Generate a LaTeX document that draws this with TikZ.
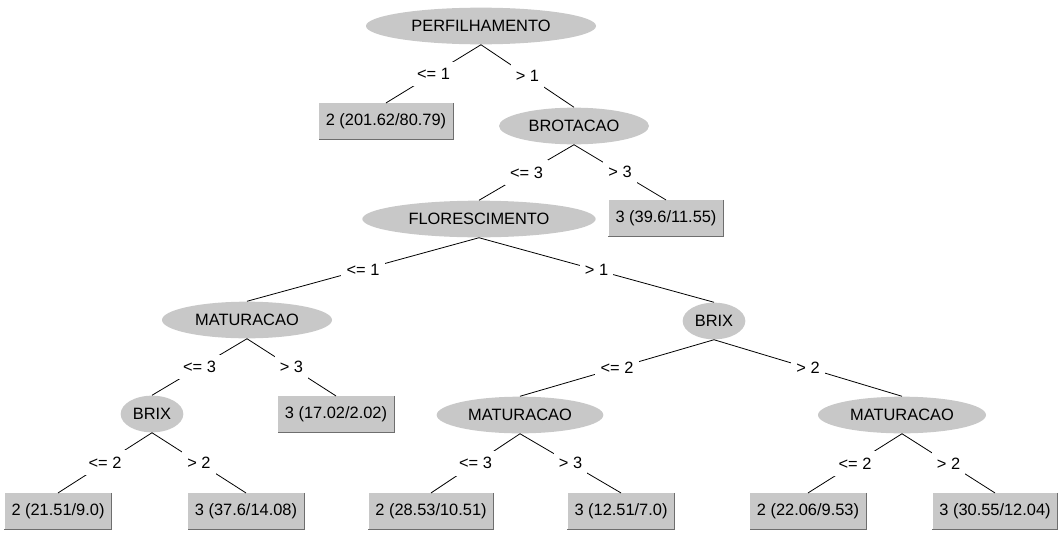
\documentclass[tikz,border=0pt]{standalone}
\usepackage{fontspec}
\setmainfont{Liberation Sans}
\usetikzlibrary{shapes.geometric}
\definecolor{nodegray}{RGB}{200,200,200}
\definecolor{edgegray}{RGB}{110,110,110}
\begin{document}
\begin{tikzpicture}[x=0.75pt,y=-0.75pt,line width=0.6pt,font=\fontsize{12.3pt}{14pt}\selectfont,
	split/.style={ellipse,fill=nodegray,inner sep=0pt,minimum height=27.5pt},
	leaf/.style={rectangle,fill=nodegray,inner xsep=5pt,inner ysep=0pt,minimum height=26.5pt},
	lab/.style={fill=white,inner xsep=4pt,inner ysep=5pt}]
	\useasboundingbox (0,0) rectangle (1060,532);
	% attribute nodes
	\node[split,minimum width=172.5pt] (perf) at (481,26) {PERFILHAMENTO};
	\node[split,minimum width=112.5pt] (brot) at (574,126) {BROTACAO};
	\node[split,minimum width=175pt] (flor) at (479,219) {FLORESCIMENTO};
	\node[split,minimum width=127.5pt] (matL) at (247,320) {MATURACAO};
	\node[split,minimum width=47pt] (brixR) at (714,321) {BRIX};
	\node[split,minimum width=47pt] (brixL) at (152,414) {BRIX};
	\node[split,minimum width=125pt] (matM) at (520,415) {MATURACAO};
	\node[split,minimum width=126pt] (matR) at (902,415) {MATURACAO};
	% leaves
	\node[leaf] (leafA) at (386,121) {2 (201.62/80.79)};
	\node[leaf] (leafB) at (666,218) {3 (39.6/11.55)};
	\node[leaf] (leafC) at (336,414) {3 (17.02/2.02)};
	\node[leaf] (leafD) at (58,511) {2 (21.51/9.0)};
	\node[leaf] (leafE) at (246,511) {3 (37.6/14.08)};
	\node[leaf] (leafF) at (431,511) {2 (28.53/10.51)};
	\node[leaf] (leafG) at (621,511) {3 (12.51/7.0)};
	\node[leaf] (leafH) at (808,511) {2 (22.06/9.53)};
	\node[leaf] (leafI) at (995,511) {3 (30.55/12.04)};
	\foreach \n in {leafA,leafB,leafC,leafD,leafE,leafF,leafG,leafH,leafI}
		\draw[edgegray] (\n.north east)--(\n.south east)--(\n.south west);
	% branches
	\foreach \a/\b/\t in {perf/leafA/{<= 1},perf/brot/{> 1},brot/flor/{<= 3},brot/leafB/{> 3},
		flor/matL/{<= 1},flor/brixR/{> 1},matL/brixL/{<= 3},matL/leafC/{> 3},
		brixL/leafD/{<= 2},brixL/leafE/{> 2},brixR/matM/{<= 2},brixR/matR/{> 2},
		matM/leafF/{<= 3},matM/leafG/{> 3},matR/leafH/{<= 2},matR/leafI/{> 2}}
		\draw (\a.south)--node[lab]{\t}(\b.north);
\end{tikzpicture}
\end{document}
